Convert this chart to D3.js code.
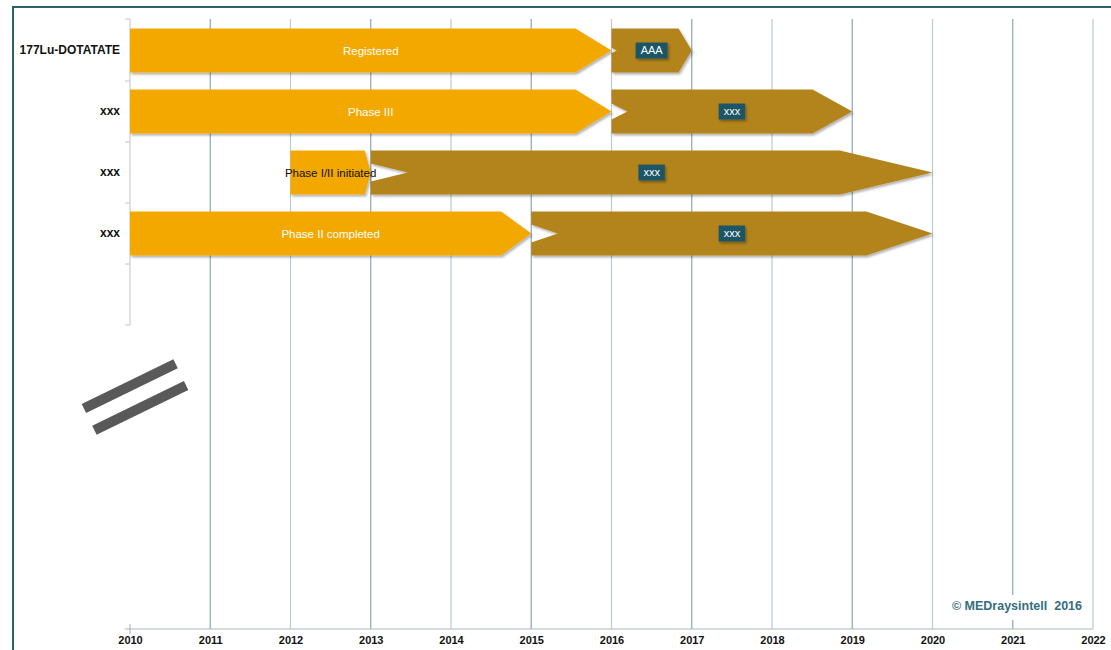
<!DOCTYPE html>
<html>
<head>
<meta charset="utf-8">
<script src="https://d3js.org/d3.v7.min.js"></script>
<style>
  body { margin: 0; background: #fff; }
  text { font-family: "Liberation Sans", Arial, sans-serif; }
</style>
</head>
<body>
<script>
  // chart data
  let products = ["177Lu-DOTATATE", "xxx", "xxx", "xxx", ""];
  let stageStart = [2010, 2010, 2012, 2010];
  let stageEnd = [2016, 2016, 2013, 2015];
  let stageLabel = ["Registered", "Phase III", "Phase I/II initiated", "Phase II completed"];
  let nextEnd = [2017, 2019, 2020, 2020];
  let nextLabel = ["AAA", "xxx", "xxx", "xxx"];
  let nextLabelAt = [2016.5, 2017.5, 2016.5, 2017.5];
  let years = [2010, 2011, 2012, 2013, 2014, 2015, 2016, 2017, 2018, 2019, 2020, 2021, 2022];

  let width = 1111, height = 650;

  let svg = d3.select("body").append("svg")
    .attr("width", width)
    .attr("height", height);

  let defs = svg.append("defs");
  let f = defs.append("filter").attr("id", "shadow")
    .attr("x", "-10%").attr("y", "-20%").attr("width", "130%").attr("height", "160%");
  f.append("feDropShadow").attr("dx", 1.5).attr("dy", 2).attr("stdDeviation", 1.2)
    .attr("flood-color", "#000").attr("flood-opacity", 0.3);

  let x = d3.scaleLinear().domain([2010, 2022]).range([130, 1093]);
  let y = d3.scaleBand().domain(d3.range(products.length)).range([20, 325]);

  // frame
  svg.append("line").attr("x1", 12).attr("x2", width).attr("y1", 7).attr("y2", 7)
    .attr("stroke", "#2b5f6b").attr("stroke-width", 2);
  svg.append("line").attr("x1", 13).attr("x2", 13).attr("y1", 6).attr("y2", height)
    .attr("stroke", "#2b5f6b").attr("stroke-width", 2);

  // vertical grid
  svg.append("g").selectAll("line")
    .data(years.slice(1))
    .join("line")
    .attr("x1", d => x(d)).attr("x2", d => x(d))
    .attr("y1", 19).attr("y2", 629)
    .attr("stroke", (d, i) => i % 2 ? "#b8ccd2" : "#88a8b4")
    .attr("stroke-width", 1.2);

  // copyright box (masks grid)
  svg.append("rect").attr("x", 938).attr("y", 595).attr("width", 150).attr("height", 25)
    .attr("fill", "#fff");
  svg.append("text").attr("x", 1082).attr("y", 610)
    .attr("text-anchor", "end")
    .style("white-space", "pre")
    .style("font-size", "12.5px").style("font-weight", "bold").style("fill", "#346e7d")
    .text("\u00a9 MEDraysintell  2016");

  // x axis
  let xAxis = svg.append("g").attr("transform", "translate(0,629)")
    .call(d3.axisBottom(x).tickValues(years).tickFormat(d3.format("d")).tickSize(0).tickPadding(7));
  xAxis.select(".domain").attr("stroke", "#a9b7bc").attr("d", "M125,0H1093");
  xAxis.selectAll("text").style("font-size", "11px").style("font-weight", "bold").style("fill", "#111")
    .style("font-family", "'Liberation Sans', Arial, sans-serif");
  svg.append("line").attr("x1", 130).attr("x2", 130).attr("y1", 624).attr("y2", 634)
    .attr("stroke", "#a9a9a9");

  // y axis
  let yAxis = svg.append("g").attr("transform", "translate(130,0)")
    .call(d3.axisLeft(y).tickFormat(i => products[i]).tickSize(0).tickPadding(10));
  yAxis.select(".domain").remove();
  yAxis.selectAll("text").style("font-size", "12px").style("font-weight", "bold").style("fill", "#111")
    .style("font-family", "'Liberation Sans', Arial, sans-serif");
  let bounds = [0].concat(y.domain().map(i => y(i) + y.bandwidth()));
  svg.append("line").attr("x1", 130).attr("x2", 130).attr("y1", 19).attr("y2", 325)
    .attr("stroke", "#c4c4c4");
  svg.append("g").selectAll("line").data(bounds).join("line")
    .attr("x1", 125).attr("x2", 130)
    .attr("y1", (d, i) => i === 0 ? 19 : d).attr("y2", (d, i) => i === 0 ? 19 : d)
    .attr("stroke", "#c4c4c4");

  let barH = 44;
  let rows = stageStart.map((s, i) => ({
    i: i, s: s, e: stageEnd[i], label: stageLabel[i],
    ne: nextEnd[i], nlabel: nextLabel[i], nat: nextLabelAt[i]
  }));

  function arrowPath(x0, x1, cy, point, notch, notchH) {
    let t = cy - barH / 2, b = cy + barH / 2;
    let p = [[x0, t], [x1 - point, t], [x1, cy], [x1 - point, b], [x0, b]];
    if (notch > 0) p.push([x0, cy + notchH], [x0 + notch, cy], [x0, cy - notchH]);
    return "M" + p.map(q => q.join(",")).join("L") + "Z";
  }

  let bars = svg.append("g");

  // second stage (brown)
  bars.selectAll("path.next").data(rows).join("path")
    .attr("class", "next")
    .attr("d", d => {
      let x0 = x(d.e), x1 = x(d.ne), len = x1 - x0;
      let notch = len * 0.066;
      return arrowPath(x0, x1, y(d.i) + y.bandwidth() / 2, len * 0.165, notch, Math.min(notch * 0.5, 9));
    })
    .attr("fill", "#b3841e")
    .attr("filter", "url(#shadow)");

  // first stage (orange)
  bars.selectAll("path.stage").data(rows).join("path")
    .attr("class", "stage")
    .attr("d", d => {
      let x0 = x(d.s), x1 = x(d.e), len = x1 - x0;
      return arrowPath(x0, x1, y(d.i) + y.bandwidth() / 2, len * 0.075, 0, 0);
    })
    .attr("fill", "#f3a800")
    .attr("filter", "url(#shadow)");

  bars.selectAll("text.stage").data(rows).join("text")
    .attr("class", "stage")
    .attr("x", d => (x(d.s) + x(d.e)) / 2)
    .attr("y", d => y(d.i) + y.bandwidth() / 2)
    .attr("dy", "0.35em")
    .attr("text-anchor", "middle")
    .style("font-size", "11.5px")
    .text(d => d.label)
    .style("fill", function(d) {
      return this.getComputedTextLength() > x(d.e) - x(d.s) - 4 ? "#111" : "#fff";
    });

  // second stage label boxes
  let boxes = bars.selectAll("g.box").data(rows).join("g")
    .attr("class", "box")
    .attr("transform", d => `translate(${x(d.nat)},${y(d.i) + y.bandwidth() / 2})`);
  boxes.append("text")
    .attr("text-anchor", "middle").attr("dy", "0.35em")
    .style("font-size", "11px").style("fill", "#fff")
    .text(d => d.nlabel);
  boxes.each(function() {
    let g = d3.select(this);
    let w = g.select("text").node().getComputedTextLength() + 10;
    g.insert("rect", "text")
      .attr("x", -w / 2).attr("y", -8).attr("width", w).attr("height", 16)
      .attr("fill", "#1f5766")
      .attr("filter", "url(#shadow)");
  });

  // axis break mark
  let brk = svg.append("g").attr("transform", "translate(135,397) rotate(-26)");
  brk.selectAll("rect").data([-12, 12]).join("rect")
    .attr("x", -51).attr("y", d => d - 5).attr("width", 102).attr("height", 10)
    .attr("fill", "#595959");
</script>
</body>
</html>
